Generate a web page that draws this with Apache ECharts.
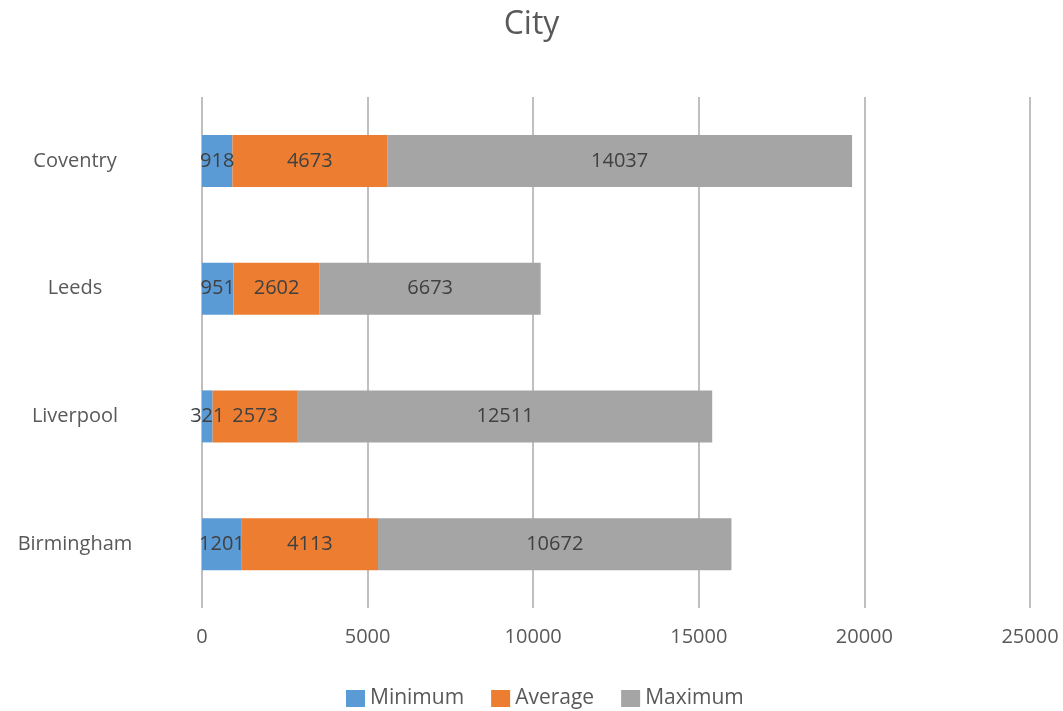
<!DOCTYPE html>
<html>
<head>
<meta charset="utf-8">
<script src="https://cdn.jsdelivr.net/npm/echarts@6/dist/echarts.min.js"></script>
<style>html,body{margin:0;padding:0;background:#fff;}#c{width:1063px;height:711px;}</style>
</head>
<body>
<div id="c"></div>
<script>
const categories = ['Birmingham', 'Liverpool', 'Leeds', 'Coventry'];
const minimum = [1201, 321, 951, 918];
const average = [4113, 2573, 2602, 4673];
const maximum = [10672, 12511, 6673, 14037];
const seriesNames = ['Minimum', 'Average', 'Maximum'];
const colors = ['#5B9BD5', '#ED7D31', '#A5A5A5'];

const font = '"Open Sans", "Noto Sans", sans-serif';
const chart = echarts.init(document.getElementById('c'));
const label = { show: true, position: 'inside', color: '#404040', fontSize: 20, fontFamily: font };
const mk = (name, data, i) => ({
  name, type: 'bar', stack: 'total', data, barWidth: 52,
  itemStyle: { color: colors[i] }, label, emphasis: { disabled: true }
});
chart.setOption({
  animation: false,
  title: { text: 'City', left: 'center', top: 4,
    textStyle: { fontSize: 32, fontWeight: 'normal', color: '#595959', fontFamily: font } },
  legend: { top: 688, left: 346, padding: 0, itemWidth: 19, itemHeight: 17, itemGap: 27, icon: 'rect',
    textStyle: { fontSize: 21, color: '#595959', fontFamily: font },
    data: seriesNames },
  grid: { left: 202, right: 33, top: 97, bottom: 103, containLabel: false },
  xAxis: { type: 'value', min: 0, max: 25000, interval: 5000,
    axisLine: { show: false }, axisTick: { show: false },
    splitLine: { show: true, lineStyle: { color: '#BFBFBF', width: 2 } },
    axisLabel: { color: '#595959', fontSize: 20, fontFamily: font, margin: 19,
      formatter: v => String(v) } },
  yAxis: { type: 'category', data: categories,
    axisLine: { show: false }, axisTick: { show: false },
    axisLabel: { color: '#595959', fontSize: 20, fontFamily: font, margin: 127, align: 'center' } },
  series: [mk(seriesNames[0], minimum, 0), mk(seriesNames[1], average, 1), mk(seriesNames[2], maximum, 2)]
});
</script>
</body>
</html>
